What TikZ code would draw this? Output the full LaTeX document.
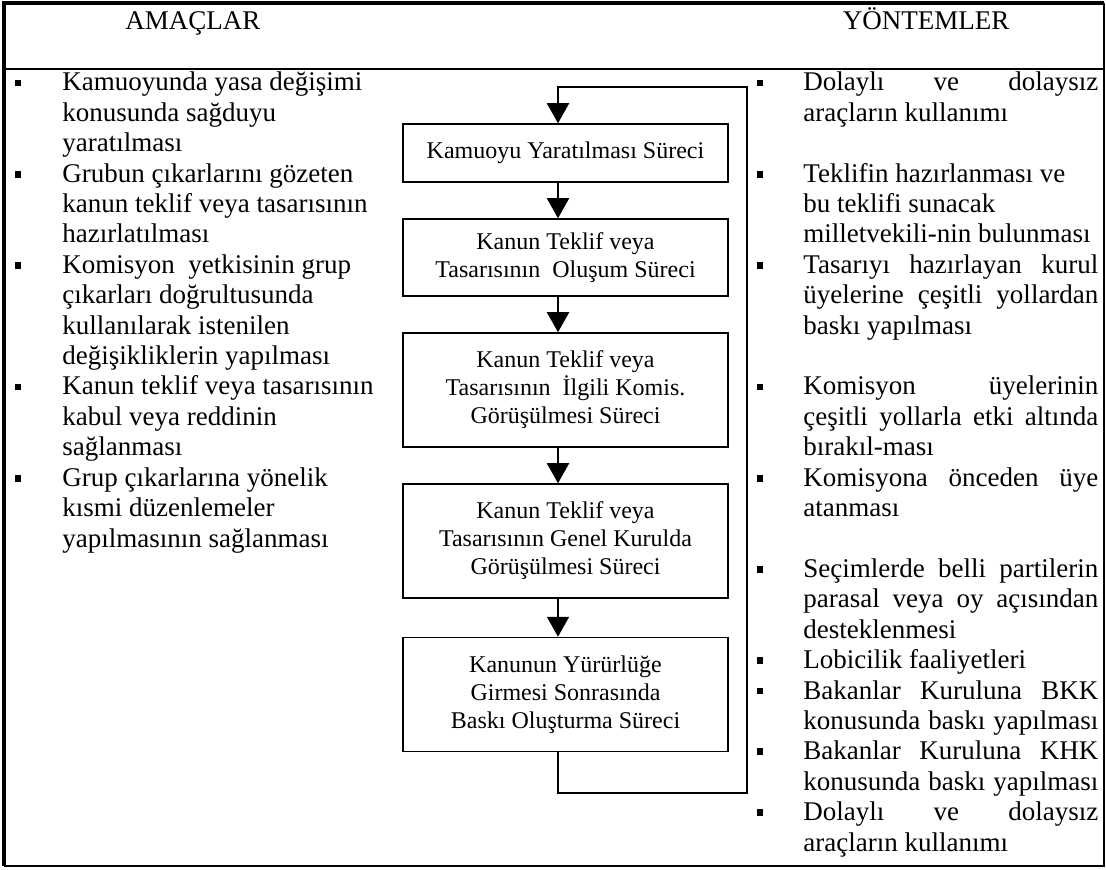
\documentclass[tikz,border=0pt]{standalone}
\usepackage{fontspec}
\setmainfont{Liberation Serif}
\usetikzlibrary{arrows.meta}
\newcommand\JJ[1]{\makebox[147.5pt][s]{#1}}
\begin{document}
\begin{tikzpicture}[x=0.5pt,y=-0.5pt,
  txt/.style={anchor=base west,inner sep=0pt,font=\fontsize{13.5}{15.2}\selectfont},
  hdr/.style={anchor=base,inner sep=0pt,font=\fontsize{13.5}{15.2}\selectfont},
  bul/.style={fill=black,minimum width=3pt,minimum height=3.4pt,inner sep=0pt},
  proc/.style={draw,line width=0.75pt,minimum width=162.5pt,inner sep=0pt,align=center,font=\fontsize{12}{14}\selectfont},
  arr/.style={line width=1pt,-{Triangle[width=11pt,length=10pt]}},
  thickframe/.style={line width=2pt},
  thinframe/.style={line width=1.2pt}]
\useasboundingbox (0,0) rectangle (1106,870);
% frame
\coordinate (tl) at (4,3);
\coordinate (tr) at (1104,3);
\coordinate (bl) at (4,866);
\coordinate (br) at (1104,866);
\draw[thickframe] (bl) -- (tl) -- (tr);
\draw[thinframe] (tr) -- (br) -- (bl);
\coordinate (hl) at (4,69);
\coordinate (hr) at (1104,69);
\draw[line width=0.8pt] (hl) -- (hr);
% headers
\node[hdr] (amac) at (193,30) {AMAÇLAR};
\node[hdr] (yont) at (926,30) {YÖNTEMLER};
% left column
\foreach \k/\t in {0/Kamuoyunda yasa değişimi,1/konusunda sağduyu,2/yaratılması,
  3/Grubun çıkarlarını gözeten,4/kanun teklif veya tasarısının,5/hazırlatılması,
  6/Komisyon\ \ yetkisinin grup,7/çıkarları doğrultusunda,8/kullanılarak istenilen,9/değişikliklerin yapılması,
  10/Kanun teklif veya tasarısının,11/kabul veya reddinin,12/sağlanması,
  13/Grup çıkarlarına yönelik,14/kısmi düzenlemeler,15/yapılmasının sağlanması}
  \node[txt] (L\k) at (62,{91+30.4*\k}) {\t};
\foreach \k in {0,3,6,10,13}
  \node[bul] (bL\k) at (18,{83+30.4*\k}) {};
% right column
\foreach \k/\t in {0/\JJ{Dolaylı ve dolaysız},1/araçların kullanımı,
  3/Teklifin hazırlanması ve,4/bu teklifi sunacak,5/milletvekili-nin bulunması,
  6/\JJ{Tasarıyı hazırlayan kurul},7/\JJ{üyelerine çeşitli yollardan},8/baskı yapılması,
  10/\JJ{Komisyon üyelerinin},11/\JJ{çeşitli yollarla etki altında},12/bırakıl-ması,
  13/\JJ{Komisyona önceden üye},14/atanması,
  16/\JJ{Seçimlerde belli partilerin},17/\JJ{parasal veya oy açısından},18/desteklenmesi,
  19/Lobicilik faaliyetleri,20/\JJ{Bakanlar Kuruluna BKK},21/\JJ{konusunda baskı yapılması},
  22/\JJ{Bakanlar Kuruluna KHK},23/\JJ{konusunda baskı yapılması},
  24/\JJ{Dolaylı ve dolaysız},25/araçların kullanımı}
  \node[txt] (R\k) at (803,{91+30.4*\k}) {\t};
\foreach \k in {0,3,6,10,13,16,19,20,22,24}
  \node[bul] (bR\k) at (760,{83+30.4*\k}) {};
% process boxes
\node[proc,minimum height=29pt] (b1) at (565.5,153) {Kamuoyu Yaratılması Süreci};
\node[proc,minimum height=38.5pt] (b2) at (565.5,257.5) {Kanun Teklif veya\\Tasarısının\ \ Oluşum Süreci};
\node[proc,minimum height=57pt] (b3) at (565.5,390) {Kanun Teklif veya\\Tasarısının\ \ İlgili Komis.\\Görüşülmesi Süreci};
\node[proc,minimum height=57pt] (b4) at (565.5,541) {Kanun Teklif veya\\Tasarısının Genel Kurulda\\Görüşülmesi Süreci};
\node[proc,minimum height=57pt] (b5) at (565.5,694.5) {Kanunun Yürürlüğe\\Girmesi Sonrasında\\Baskı Oluşturma Süreci};
% connectors
\coordinate (ax) at (558,0);
\coordinate (lt) at (747,87);
\coordinate (lb) at (747,793);
\draw[arr] (b1.south -| ax) -- (b2.north -| ax);
\draw[arr] (b2.south -| ax) -- (b3.north -| ax);
\draw[arr] (b3.south -| ax) -- (b4.north -| ax);
\draw[arr] (b4.south -| ax) -- (b5.north -| ax);
\draw[arr] (b5.south -| ax) |- (lb) -- (lt) -- (lt -| ax) -- (b1.north -| ax);
\end{tikzpicture}
\end{document}
